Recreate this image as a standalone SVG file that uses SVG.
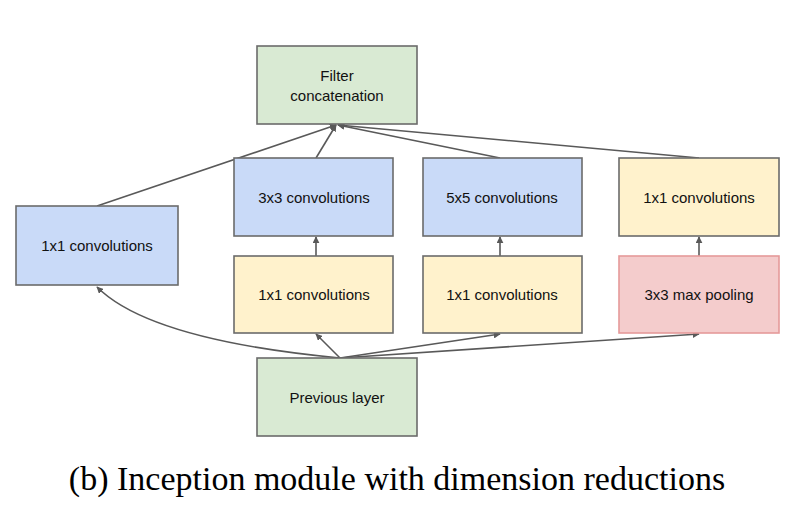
<svg xmlns="http://www.w3.org/2000/svg" width="790" height="523" viewBox="0 0 790 523">
<style>
rect{stroke:#6b6b6b;stroke-width:1.6}
.g{fill:#d9ead3}.b{fill:#c9daf8}.y{fill:#fff2cc}.p{fill:#f4cccc;stroke:#e59a9a}
text{font-family:Arial,"Liberation Sans",sans-serif;font-size:15px;fill:#111;text-anchor:middle}
.c path,.c line{stroke:#595959;stroke-width:1.6;fill:none;marker-end:url(#a)}
</style>
<defs><marker id="a" viewBox="0 0 10 10" refX="9" refY="5" markerWidth="7" markerHeight="7" orient="auto" markerUnits="userSpaceOnUse"><path d="M0,0L10,5L0,10z" fill="#595959"/></marker></defs>
<rect width="790" height="523" fill="#fff" style="stroke:none"/>
<g class="c">
<line x1="97" y1="206" x2="336" y2="125"/>
<line x1="316" y1="158" x2="336" y2="125"/>
<line x1="500" y1="158" x2="338" y2="125"/>
<line x1="699" y1="158" x2="338" y2="125"/>
<line x1="316" y1="256" x2="316" y2="237"/>
<line x1="500" y1="256" x2="500" y2="237"/>
<line x1="699" y1="256" x2="699" y2="237"/>
<path d="M340,358 Q150,340 97,287"/>
<line x1="340" y1="358" x2="316" y2="334"/>
<line x1="340" y1="358" x2="500" y2="334"/>
<line x1="340" y1="358" x2="699" y2="334"/>
</g>
<g id="concat"><rect class="g" x="257" y="46" width="160" height="78"/><text x="337" y="81">Filter</text><text x="337" y="101">concatenation</text></g>
<g id="c1"><rect class="b" x="16" y="206" width="162" height="79"/><text x="97" y="251">1x1 convolutions</text></g>
<g id="c3"><rect class="b" x="234" y="158" width="159" height="78"/><text x="314" y="203">3x3 convolutions</text></g>
<g id="c5"><rect class="b" x="423" y="158" width="159" height="78"/><text x="502" y="203">5x5 convolutions</text></g>
<g id="c1r"><rect class="y" x="619" y="158" width="160" height="78"/><text x="699" y="203">1x1 convolutions</text></g>
<g id="r3"><rect class="y" x="234" y="256" width="159" height="77"/><text x="314" y="300">1x1 convolutions</text></g>
<g id="r5"><rect class="y" x="423" y="256" width="159" height="77"/><text x="502" y="300">1x1 convolutions</text></g>
<g id="pool"><rect class="p" x="619" y="256" width="160" height="77"/><text x="699" y="300">3x3 max pooling</text></g>
<g id="prev"><rect class="g" x="257" y="358" width="160" height="78"/><text x="337" y="403">Previous layer</text></g>
<text x="397" y="490" style="font-family:'Liberation Serif',serif;font-size:34px;fill:#000">(b)  Inception module with dimension reductions</text>
</svg>
